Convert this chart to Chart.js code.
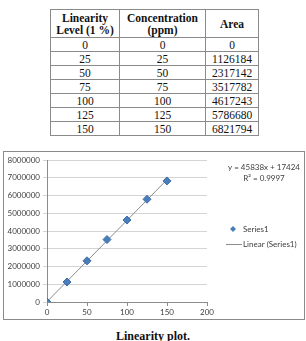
<!DOCTYPE html>
<html>
<head>
<meta charset="utf-8">
<script src="https://cdn.jsdelivr.net/npm/chart.js@4/dist/chart.umd.min.js"></script>
<style>
body { margin:0; width:306px; height:341px; background:#fff; position:relative; overflow:hidden; }
table { position:absolute; left:50px; top:9px; border-collapse:collapse; color:#111; }
td, th { border:1px solid #8a8a8a; text-align:center; padding:0; line-height:12px; font-family:"Liberation Serif", "Times New Roman", serif; font-size:11.5px; }
th { font-weight:bold; height:27px; }
td { height:13px; }
#box { position:absolute; left:3px; top:151px; width:300px; height:167px; border:1px solid #8a8a8a; }
#caption { position:absolute; left:0; width:306px; top:329px; text-align:center; font-family:"Liberation Serif", serif; font-weight:bold; font-size:12px; color:#111; }
</style>
</head>
<body>
<table id="tbl">
  <tr><th style="width:68px">Linearity<br>Level (1 %)</th><th style="width:85px">Concentration<br>(ppm)</th><th style="width:52px">Area</th></tr>
</table>
<div id="box"><canvas id="myChart"></canvas></div>
<div id="caption">Linearity plot.</div>
<script>
// table + chart data
var levels = [0, 25, 50, 75, 100, 125, 150];
var concentration = [0, 25, 50, 75, 100, 125, 150];
var area = [0, 1126184, 2317142, 3517782, 4617243, 5786680, 6821794];

// trendline shown by Excel
var trendX = [0, 150];
var trendY = [17424, 6893124];
var equation = 'y = 45838x + 17424';
var rSquared = 'R\u00b2 = 0.9997';

var tbl = document.getElementById('tbl');
for (var i = 0; i < levels.length; i++) {
    var tr = document.createElement('tr');
    [levels[i], concentration[i], area[i]].forEach(function (v) {
        var td = document.createElement('td');
        td.textContent = v;
        tr.appendChild(td);
    });
    tbl.appendChild(tr);
}

var points = concentration.map(function (x, i) { return {x: x, y: area[i]}; });
var trend = trendX.map(function (x, i) { return {x: x, y: trendY[i]}; });

// equation and legend, drawn the Excel way
var overlayText = {
    id: 'overlayText',
    afterDraw: function (chart) {
        var c = chart.ctx;
        var ds = chart.data.datasets;
        c.save();
        c.font = '8px Lato';
        c.fillStyle = '#404040';
        c.textBaseline = 'middle';
        c.textAlign = 'center';
        c.fillText(equation, 260, 15);
        c.fillText(rSquared, 260, 26);

        c.textAlign = 'left';
        c.fillText(ds[0].label, 239, 77);
        c.fillText(ds[1].label, 239, 92);

        c.fillStyle = '#4A7EBB';
        c.beginPath();
        c.moveTo(229, 74); c.lineTo(232, 77); c.lineTo(229, 80); c.lineTo(226, 77);
        c.closePath();
        c.fill();

        c.strokeStyle = '#8c8c8c';
        c.lineWidth = 1;
        c.beginPath();
        c.moveTo(222, 92.5); c.lineTo(238, 92.5);
        c.stroke();
        c.restore();
    }
};

var ctx = document.getElementById('myChart').getContext('2d');
var chart = new Chart(ctx, {
    type: 'scatter',
    data: {
        datasets: [{
            label: 'Series1',
            data: points,
            backgroundColor: '#4A7EBB',
            borderColor: '#3C6DA8',
            borderWidth: 1,
            pointStyle: 'rectRot',
            pointRadius: 4,
            order: 1
        }, {
            label: 'Linear (Series1)',
            type: 'line',
            data: trend,
            borderColor: '#8c8c8c',
            borderWidth: 1,
            pointRadius: 0,
            fill: false,
            order: 2
        }]
    },
    options: {
        responsive: true,
        maintainAspectRatio: false,
        animation: false,
        layout: { padding: { top: 8, right: 97, left: 0, bottom: 0 } },
        plugins: { legend: { display: false }, tooltip: { enabled: false } },
        scales: {
            x: {
                type: 'linear',
                min: 0, max: 200,
                ticks: { stepSize: 50, color: '#404040', font: { family: 'Lato', size: 8 }, padding: 2, maxRotation: 0 },
                grid: { drawOnChartArea: false, drawTicks: true, tickLength: 4, color: '#8c8c8c' },
                border: { display: true, color: '#8c8c8c' },
                afterFit: function (s) { s.height = 17; }
            },
            y: {
                min: 0, max: 8000000,
                ticks: {
                    stepSize: 1000000, color: '#404040', font: { family: 'Lato', size: 8 }, padding: 3,
                    callback: function (v) { return String(v); }
                },
                grid: { color: '#d4d4d4', tickColor: '#d4d4d4', tickLength: 4 },
                border: { display: true, color: '#8c8c8c' },
                afterFit: function (s) { s.width = 43; }
            }
        }
    },
    plugins: [overlayText]
});
</script>
</body>
</html>
